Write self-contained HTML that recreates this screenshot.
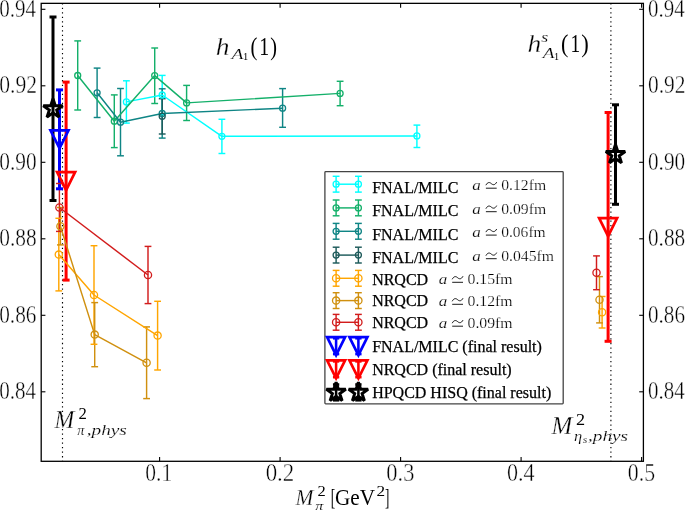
<!DOCTYPE html>
<html><head><meta charset="utf-8"><style>
html,body{margin:0;padding:0;background:#fff;width:685px;height:511px;overflow:hidden}
svg{display:block;will-change:transform;font-family:"Liberation Serif",serif}
text{font-family:"Liberation Serif",serif}
</style></head><body>
<svg width="685" height="511" viewBox="0 0 685 511" font-family="Liberation Serif">
<rect width="685" height="511" fill="#fff"/>
<g><line x1="126.40" y1="80.80" x2="126.40" y2="123.10" stroke="#00ffff" stroke-width="1.45"/><line x1="162.20" y1="75.40" x2="162.20" y2="114.60" stroke="#00ffff" stroke-width="1.45"/><line x1="221.90" y1="119.30" x2="221.90" y2="153.50" stroke="#00ffff" stroke-width="1.45"/><line x1="416.90" y1="125.10" x2="416.90" y2="147.50" stroke="#00ffff" stroke-width="1.45"/><line x1="77.70" y1="40.90" x2="77.70" y2="110.00" stroke="#14b06a" stroke-width="1.45"/><line x1="114.30" y1="94.90" x2="114.30" y2="147.60" stroke="#14b06a" stroke-width="1.45"/><line x1="154.70" y1="48.00" x2="154.70" y2="103.50" stroke="#14b06a" stroke-width="1.45"/><line x1="186.60" y1="85.40" x2="186.60" y2="120.50" stroke="#14b06a" stroke-width="1.45"/><line x1="340.10" y1="81.30" x2="340.10" y2="105.70" stroke="#14b06a" stroke-width="1.45"/><line x1="97.10" y1="68.10" x2="97.10" y2="117.50" stroke="#0f8585" stroke-width="1.45"/><line x1="120.50" y1="88.50" x2="120.50" y2="155.80" stroke="#0f8585" stroke-width="1.45"/><line x1="162.20" y1="88.80" x2="162.20" y2="138.10" stroke="#0f8585" stroke-width="1.45"/><line x1="282.60" y1="88.60" x2="282.60" y2="127.30" stroke="#0f8585" stroke-width="1.45"/><line x1="162.20" y1="98.70" x2="162.20" y2="134.00" stroke="#1d5a5a" stroke-width="1.45"/><line x1="58.80" y1="218.30" x2="58.80" y2="290.90" stroke="#ffa500" stroke-width="1.45"/><line x1="94.00" y1="245.70" x2="94.00" y2="344.30" stroke="#ffa500" stroke-width="1.45"/><line x1="157.60" y1="301.30" x2="157.60" y2="370.00" stroke="#ffa500" stroke-width="1.45"/><line x1="602.10" y1="296.50" x2="602.10" y2="328.00" stroke="#ffa500" stroke-width="1.45"/><line x1="60.40" y1="207.50" x2="60.40" y2="244.90" stroke="#d0900f" stroke-width="1.45"/><line x1="94.70" y1="302.60" x2="94.70" y2="366.70" stroke="#d0900f" stroke-width="1.45"/><line x1="146.60" y1="326.90" x2="146.60" y2="398.60" stroke="#d0900f" stroke-width="1.45"/><line x1="599.50" y1="276.60" x2="599.50" y2="322.90" stroke="#d0900f" stroke-width="1.45"/><line x1="59.40" y1="183.50" x2="59.40" y2="231.40" stroke="#d21c1c" stroke-width="1.45"/><line x1="148.00" y1="246.40" x2="148.00" y2="303.60" stroke="#d21c1c" stroke-width="1.45"/><line x1="596.50" y1="255.90" x2="596.50" y2="289.70" stroke="#d21c1c" stroke-width="1.45"/><line x1="59.50" y1="89.90" x2="59.50" y2="188.80" stroke="#0000ff" stroke-width="3.0"/><line x1="66.10" y1="82.10" x2="66.10" y2="280.10" stroke="#ff0000" stroke-width="3.0"/><line x1="608.10" y1="112.50" x2="608.10" y2="341.30" stroke="#ff0000" stroke-width="3.0"/><line x1="53.00" y1="17.00" x2="53.00" y2="200.50" stroke="#000000" stroke-width="3.0"/><line x1="615.50" y1="104.80" x2="615.50" y2="204.30" stroke="#000000" stroke-width="3.0"/><line x1="62.5" y1="3.35" x2="62.5" y2="461.3" stroke="#000" stroke-width="1.15" stroke-dasharray="1.3 3.23" stroke-dashoffset="0.25"/><line x1="610.9" y1="3.35" x2="610.9" y2="461.3" stroke="#000" stroke-width="1.15" stroke-dasharray="1.3 3.23" stroke-dashoffset="0.25"/><line x1="123.00" y1="80.80" x2="129.80" y2="80.80" stroke="#00ffff" stroke-width="1.45"/><line x1="123.00" y1="123.10" x2="129.80" y2="123.10" stroke="#00ffff" stroke-width="1.45"/><line x1="158.80" y1="75.40" x2="165.60" y2="75.40" stroke="#00ffff" stroke-width="1.45"/><line x1="158.80" y1="114.60" x2="165.60" y2="114.60" stroke="#00ffff" stroke-width="1.45"/><line x1="218.50" y1="119.30" x2="225.30" y2="119.30" stroke="#00ffff" stroke-width="1.45"/><line x1="218.50" y1="153.50" x2="225.30" y2="153.50" stroke="#00ffff" stroke-width="1.45"/><line x1="413.50" y1="125.10" x2="420.30" y2="125.10" stroke="#00ffff" stroke-width="1.45"/><line x1="413.50" y1="147.50" x2="420.30" y2="147.50" stroke="#00ffff" stroke-width="1.45"/><line x1="74.30" y1="40.90" x2="81.10" y2="40.90" stroke="#14b06a" stroke-width="1.45"/><line x1="74.30" y1="110.00" x2="81.10" y2="110.00" stroke="#14b06a" stroke-width="1.45"/><line x1="110.90" y1="94.90" x2="117.70" y2="94.90" stroke="#14b06a" stroke-width="1.45"/><line x1="110.90" y1="147.60" x2="117.70" y2="147.60" stroke="#14b06a" stroke-width="1.45"/><line x1="151.30" y1="48.00" x2="158.10" y2="48.00" stroke="#14b06a" stroke-width="1.45"/><line x1="151.30" y1="103.50" x2="158.10" y2="103.50" stroke="#14b06a" stroke-width="1.45"/><line x1="183.20" y1="85.40" x2="190.00" y2="85.40" stroke="#14b06a" stroke-width="1.45"/><line x1="183.20" y1="120.50" x2="190.00" y2="120.50" stroke="#14b06a" stroke-width="1.45"/><line x1="336.70" y1="81.30" x2="343.50" y2="81.30" stroke="#14b06a" stroke-width="1.45"/><line x1="336.70" y1="105.70" x2="343.50" y2="105.70" stroke="#14b06a" stroke-width="1.45"/><line x1="93.70" y1="68.10" x2="100.50" y2="68.10" stroke="#0f8585" stroke-width="1.45"/><line x1="93.70" y1="117.50" x2="100.50" y2="117.50" stroke="#0f8585" stroke-width="1.45"/><line x1="117.10" y1="88.50" x2="123.90" y2="88.50" stroke="#0f8585" stroke-width="1.45"/><line x1="117.10" y1="155.80" x2="123.90" y2="155.80" stroke="#0f8585" stroke-width="1.45"/><line x1="158.80" y1="88.80" x2="165.60" y2="88.80" stroke="#0f8585" stroke-width="1.45"/><line x1="158.80" y1="138.10" x2="165.60" y2="138.10" stroke="#0f8585" stroke-width="1.45"/><line x1="279.20" y1="88.60" x2="286.00" y2="88.60" stroke="#0f8585" stroke-width="1.45"/><line x1="279.20" y1="127.30" x2="286.00" y2="127.30" stroke="#0f8585" stroke-width="1.45"/><line x1="158.80" y1="98.70" x2="165.60" y2="98.70" stroke="#1d5a5a" stroke-width="1.45"/><line x1="158.80" y1="134.00" x2="165.60" y2="134.00" stroke="#1d5a5a" stroke-width="1.45"/><line x1="55.40" y1="218.30" x2="62.20" y2="218.30" stroke="#ffa500" stroke-width="1.45"/><line x1="55.40" y1="290.90" x2="62.20" y2="290.90" stroke="#ffa500" stroke-width="1.45"/><line x1="90.60" y1="245.70" x2="97.40" y2="245.70" stroke="#ffa500" stroke-width="1.45"/><line x1="90.60" y1="344.30" x2="97.40" y2="344.30" stroke="#ffa500" stroke-width="1.45"/><line x1="154.20" y1="301.30" x2="161.00" y2="301.30" stroke="#ffa500" stroke-width="1.45"/><line x1="154.20" y1="370.00" x2="161.00" y2="370.00" stroke="#ffa500" stroke-width="1.45"/><line x1="598.70" y1="296.50" x2="605.50" y2="296.50" stroke="#ffa500" stroke-width="1.45"/><line x1="598.70" y1="328.00" x2="605.50" y2="328.00" stroke="#ffa500" stroke-width="1.45"/><line x1="57.00" y1="207.50" x2="63.80" y2="207.50" stroke="#d0900f" stroke-width="1.45"/><line x1="57.00" y1="244.90" x2="63.80" y2="244.90" stroke="#d0900f" stroke-width="1.45"/><line x1="91.30" y1="302.60" x2="98.10" y2="302.60" stroke="#d0900f" stroke-width="1.45"/><line x1="91.30" y1="366.70" x2="98.10" y2="366.70" stroke="#d0900f" stroke-width="1.45"/><line x1="143.20" y1="326.90" x2="150.00" y2="326.90" stroke="#d0900f" stroke-width="1.45"/><line x1="143.20" y1="398.60" x2="150.00" y2="398.60" stroke="#d0900f" stroke-width="1.45"/><line x1="596.10" y1="276.60" x2="602.90" y2="276.60" stroke="#d0900f" stroke-width="1.45"/><line x1="596.10" y1="322.90" x2="602.90" y2="322.90" stroke="#d0900f" stroke-width="1.45"/><line x1="56.00" y1="183.50" x2="62.80" y2="183.50" stroke="#d21c1c" stroke-width="1.45"/><line x1="56.00" y1="231.40" x2="62.80" y2="231.40" stroke="#d21c1c" stroke-width="1.45"/><line x1="144.60" y1="246.40" x2="151.40" y2="246.40" stroke="#d21c1c" stroke-width="1.45"/><line x1="144.60" y1="303.60" x2="151.40" y2="303.60" stroke="#d21c1c" stroke-width="1.45"/><line x1="593.10" y1="255.90" x2="599.90" y2="255.90" stroke="#d21c1c" stroke-width="1.45"/><line x1="593.10" y1="289.70" x2="599.90" y2="289.70" stroke="#d21c1c" stroke-width="1.45"/><line x1="56.00" y1="89.90" x2="63.00" y2="89.90" stroke="#0000ff" stroke-width="3.0"/><line x1="56.00" y1="188.80" x2="63.00" y2="188.80" stroke="#0000ff" stroke-width="3.0"/><line x1="62.60" y1="82.10" x2="69.60" y2="82.10" stroke="#ff0000" stroke-width="3.0"/><line x1="62.60" y1="280.10" x2="69.60" y2="280.10" stroke="#ff0000" stroke-width="3.0"/><line x1="604.60" y1="112.50" x2="611.60" y2="112.50" stroke="#ff0000" stroke-width="3.0"/><line x1="604.60" y1="341.30" x2="611.60" y2="341.30" stroke="#ff0000" stroke-width="3.0"/><line x1="49.50" y1="17.00" x2="56.50" y2="17.00" stroke="#000000" stroke-width="3.0"/><line x1="49.50" y1="200.50" x2="56.50" y2="200.50" stroke="#000000" stroke-width="3.0"/><line x1="612.00" y1="104.80" x2="619.00" y2="104.80" stroke="#000000" stroke-width="3.0"/><line x1="612.00" y1="204.30" x2="619.00" y2="204.30" stroke="#000000" stroke-width="3.0"/><polyline points="126.40,101.90 162.20,95.00 221.90,136.30 416.90,135.90" fill="none" stroke="#00ffff" stroke-width="1.45" stroke-linejoin="round"/><circle cx="126.40" cy="101.90" r="3.0" fill="none" stroke="#00ffff" stroke-width="1.3"/><circle cx="162.20" cy="95.00" r="3.0" fill="none" stroke="#00ffff" stroke-width="1.3"/><circle cx="221.90" cy="136.30" r="3.0" fill="none" stroke="#00ffff" stroke-width="1.3"/><circle cx="416.90" cy="135.90" r="3.0" fill="none" stroke="#00ffff" stroke-width="1.3"/><polyline points="77.70,75.50 114.30,121.20 154.70,75.60 186.60,102.90 340.10,93.40" fill="none" stroke="#14b06a" stroke-width="1.45" stroke-linejoin="round"/><circle cx="77.70" cy="75.50" r="3.0" fill="none" stroke="#14b06a" stroke-width="1.3"/><circle cx="114.30" cy="121.20" r="3.0" fill="none" stroke="#14b06a" stroke-width="1.3"/><circle cx="154.70" cy="75.60" r="3.0" fill="none" stroke="#14b06a" stroke-width="1.3"/><circle cx="186.60" cy="102.90" r="3.0" fill="none" stroke="#14b06a" stroke-width="1.3"/><circle cx="340.10" cy="93.40" r="3.0" fill="none" stroke="#14b06a" stroke-width="1.3"/><polyline points="97.10,92.80 120.50,122.20 162.20,113.50 282.60,108.20" fill="none" stroke="#0f8585" stroke-width="1.45" stroke-linejoin="round"/><circle cx="97.10" cy="92.80" r="3.0" fill="none" stroke="#0f8585" stroke-width="1.3"/><circle cx="120.50" cy="122.20" r="3.0" fill="none" stroke="#0f8585" stroke-width="1.3"/><circle cx="162.20" cy="113.50" r="3.0" fill="none" stroke="#0f8585" stroke-width="1.3"/><circle cx="282.60" cy="108.20" r="3.0" fill="none" stroke="#0f8585" stroke-width="1.3"/><circle cx="162.20" cy="116.30" r="3.0" fill="none" stroke="#1d5a5a" stroke-width="1.3"/><polyline points="58.80,254.60 94.00,295.00 157.60,335.60" fill="none" stroke="#ffa500" stroke-width="1.45" stroke-linejoin="round"/><circle cx="58.80" cy="254.60" r="3.6" fill="none" stroke="#ffa500" stroke-width="1.3"/><circle cx="94.00" cy="295.00" r="3.6" fill="none" stroke="#ffa500" stroke-width="1.3"/><circle cx="157.60" cy="335.60" r="3.6" fill="none" stroke="#ffa500" stroke-width="1.3"/><circle cx="602.10" cy="312.30" r="3.6" fill="none" stroke="#ffa500" stroke-width="1.3"/><polyline points="60.40,226.20 94.70,334.60 146.60,362.80" fill="none" stroke="#d0900f" stroke-width="1.45" stroke-linejoin="round"/><circle cx="60.40" cy="226.20" r="3.6" fill="none" stroke="#d0900f" stroke-width="1.3"/><circle cx="94.70" cy="334.60" r="3.6" fill="none" stroke="#d0900f" stroke-width="1.3"/><circle cx="146.60" cy="362.80" r="3.6" fill="none" stroke="#d0900f" stroke-width="1.3"/><circle cx="599.50" cy="299.70" r="3.6" fill="none" stroke="#d0900f" stroke-width="1.3"/><polyline points="59.40,207.50 148.00,275.00" fill="none" stroke="#d21c1c" stroke-width="1.45" stroke-linejoin="round"/><circle cx="59.40" cy="207.50" r="3.6" fill="none" stroke="#d21c1c" stroke-width="1.3"/><circle cx="148.00" cy="275.00" r="3.6" fill="none" stroke="#d21c1c" stroke-width="1.3"/><circle cx="596.50" cy="272.80" r="3.6" fill="none" stroke="#d21c1c" stroke-width="1.3"/><path d="M50.50,130.30 L68.50,130.30 L59.50,148.30 Z" fill="none" stroke="#0000ff" stroke-width="2.7" stroke-linejoin="miter" stroke-miterlimit="4"/><path d="M57.10,172.20 L75.10,172.20 L66.10,190.20 Z" fill="none" stroke="#ff0000" stroke-width="2.7" stroke-linejoin="miter" stroke-miterlimit="4"/><path d="M599.10,218.20 L617.10,218.20 L608.10,236.20 Z" fill="none" stroke="#ff0000" stroke-width="2.7" stroke-linejoin="miter" stroke-miterlimit="4"/><path d="M53.00,98.70 L50.71,105.75 L43.30,105.75 L49.29,110.10 L47.00,117.15 L53.00,112.80 L59.00,117.15 L56.71,110.10 L62.70,105.75 L55.29,105.75 Z" fill="none" stroke="#000000" stroke-width="3.0" stroke-linejoin="miter" stroke-miterlimit="2"/><path d="M615.50,144.40 L613.21,151.45 L605.80,151.45 L611.79,155.80 L609.50,162.85 L615.50,158.50 L621.50,162.85 L619.21,155.80 L625.20,151.45 L617.79,151.45 Z" fill="none" stroke="#000000" stroke-width="3.0" stroke-linejoin="miter" stroke-miterlimit="2"/></g>
<g><rect x="41.2" y="3.35" width="602.20" height="457.95" fill="none" stroke="#000" stroke-width="1.3"/><line x1="159.60" y1="461.3" x2="159.60" y2="456.90000000000003" stroke="#000" stroke-width="1.1"/><line x1="159.60" y1="3.35" x2="159.60" y2="7.75" stroke="#000" stroke-width="1.1"/><line x1="280.10" y1="461.3" x2="280.10" y2="456.90000000000003" stroke="#000" stroke-width="1.1"/><line x1="280.10" y1="3.35" x2="280.10" y2="7.75" stroke="#000" stroke-width="1.1"/><line x1="400.60" y1="461.3" x2="400.60" y2="456.90000000000003" stroke="#000" stroke-width="1.1"/><line x1="400.60" y1="3.35" x2="400.60" y2="7.75" stroke="#000" stroke-width="1.1"/><line x1="521.10" y1="461.3" x2="521.10" y2="456.90000000000003" stroke="#000" stroke-width="1.1"/><line x1="521.10" y1="3.35" x2="521.10" y2="7.75" stroke="#000" stroke-width="1.1"/><line x1="641.60" y1="461.3" x2="641.60" y2="456.90000000000003" stroke="#000" stroke-width="1.1"/><line x1="641.60" y1="3.35" x2="641.60" y2="7.75" stroke="#000" stroke-width="1.1"/><line x1="41.2" y1="9.30" x2="45.400000000000006" y2="9.30" stroke="#000" stroke-width="1.1"/><line x1="643.4" y1="9.30" x2="639.1999999999999" y2="9.30" stroke="#000" stroke-width="1.1"/><line x1="41.2" y1="85.80" x2="45.400000000000006" y2="85.80" stroke="#000" stroke-width="1.1"/><line x1="643.4" y1="85.80" x2="639.1999999999999" y2="85.80" stroke="#000" stroke-width="1.1"/><line x1="41.2" y1="162.30" x2="45.400000000000006" y2="162.30" stroke="#000" stroke-width="1.1"/><line x1="643.4" y1="162.30" x2="639.1999999999999" y2="162.30" stroke="#000" stroke-width="1.1"/><line x1="41.2" y1="238.80" x2="45.400000000000006" y2="238.80" stroke="#000" stroke-width="1.1"/><line x1="643.4" y1="238.80" x2="639.1999999999999" y2="238.80" stroke="#000" stroke-width="1.1"/><line x1="41.2" y1="315.30" x2="45.400000000000006" y2="315.30" stroke="#000" stroke-width="1.1"/><line x1="643.4" y1="315.30" x2="639.1999999999999" y2="315.30" stroke="#000" stroke-width="1.1"/><line x1="41.2" y1="391.80" x2="45.400000000000006" y2="391.80" stroke="#000" stroke-width="1.1"/><line x1="643.4" y1="391.80" x2="639.1999999999999" y2="391.80" stroke="#000" stroke-width="1.1"/></g>
<g fill="#000"><text x="-0.80" y="16.90" font-size="24.3" textLength="36.93" lengthAdjust="spacingAndGlyphs" stroke="#fff" stroke-width="0.40">0.94</text><text x="648.00" y="16.90" font-size="24.3" textLength="36.73" lengthAdjust="spacingAndGlyphs" stroke="#fff" stroke-width="0.40">0.94</text><text x="-0.82" y="93.40" font-size="24.3" textLength="37.82" lengthAdjust="spacingAndGlyphs" stroke="#fff" stroke-width="0.40">0.92</text><text x="647.98" y="93.40" font-size="24.3" textLength="37.60" lengthAdjust="spacingAndGlyphs" stroke="#fff" stroke-width="0.40">0.92</text><text x="-0.81" y="169.90" font-size="24.3" textLength="37.43" lengthAdjust="spacingAndGlyphs" stroke="#fff" stroke-width="0.40">0.90</text><text x="647.99" y="169.90" font-size="24.3" textLength="37.22" lengthAdjust="spacingAndGlyphs" stroke="#fff" stroke-width="0.40">0.90</text><text x="-0.81" y="246.40" font-size="24.3" textLength="37.43" lengthAdjust="spacingAndGlyphs" stroke="#fff" stroke-width="0.40">0.88</text><text x="647.99" y="246.40" font-size="24.3" textLength="37.22" lengthAdjust="spacingAndGlyphs" stroke="#fff" stroke-width="0.40">0.88</text><text x="-0.81" y="322.90" font-size="24.3" textLength="37.24" lengthAdjust="spacingAndGlyphs" stroke="#fff" stroke-width="0.40">0.86</text><text x="647.99" y="322.90" font-size="24.3" textLength="37.04" lengthAdjust="spacingAndGlyphs" stroke="#fff" stroke-width="0.40">0.86</text><text x="-0.80" y="399.40" font-size="24.3" textLength="36.93" lengthAdjust="spacingAndGlyphs" stroke="#fff" stroke-width="0.40">0.84</text><text x="648.00" y="399.40" font-size="24.3" textLength="36.73" lengthAdjust="spacingAndGlyphs" stroke="#fff" stroke-width="0.40">0.84</text><text x="145.28" y="481.30" font-size="24.3" textLength="26.91" lengthAdjust="spacingAndGlyphs" stroke="#fff" stroke-width="0.40">0.1</text><text x="265.63" y="481.30" font-size="24.3" textLength="28.64" lengthAdjust="spacingAndGlyphs" stroke="#fff" stroke-width="0.40">0.2</text><text x="386.35" y="481.30" font-size="24.3" textLength="28.03" lengthAdjust="spacingAndGlyphs" stroke="#fff" stroke-width="0.40">0.3</text><text x="507.06" y="481.30" font-size="24.3" textLength="27.59" lengthAdjust="spacingAndGlyphs" stroke="#fff" stroke-width="0.40">0.4</text><text x="627.77" y="481.30" font-size="24.3" textLength="27.28" lengthAdjust="spacingAndGlyphs" stroke="#fff" stroke-width="0.40">0.5</text><text x="295.45" y="504.70" font-size="23.3" font-style="italic" textLength="17.96" lengthAdjust="spacingAndGlyphs" stroke="#fff" stroke-width="0.28">M</text><text x="317.58" y="496.00" font-size="15" textLength="8.23" lengthAdjust="spacingAndGlyphs">2</text><text x="315.31" y="509.80" font-size="13.5" font-style="italic" textLength="8.12" lengthAdjust="spacingAndGlyphs" stroke="#fff" stroke-width="0.16">π</text><text x="330.80" y="504.70" font-size="24" textLength="4.49" lengthAdjust="spacingAndGlyphs">[</text><text x="335.03" y="504.70" font-size="24" textLength="40.01" lengthAdjust="spacingAndGlyphs">GeV</text><text x="376.54" y="496.30" font-size="15" textLength="8.61" lengthAdjust="spacingAndGlyphs">2</text><text x="385.03" y="504.70" font-size="24" textLength="4.34" lengthAdjust="spacingAndGlyphs">]</text><text x="215.81" y="54.50" font-size="25.2" font-style="italic" textLength="13.73" lengthAdjust="spacingAndGlyphs" stroke="#fff" stroke-width="0.30">h</text><text x="231.47" y="58.50" font-size="15.5" font-style="italic" textLength="11.96" lengthAdjust="spacingAndGlyphs" stroke="#fff" stroke-width="0.19">A</text><text x="242.98" y="60.30" font-size="11" textLength="5.25" lengthAdjust="spacingAndGlyphs">1</text><text x="250.59" y="54.50" font-size="25.2" textLength="6.87" lengthAdjust="spacingAndGlyphs">(</text><text x="259.25" y="54.50" font-size="25.2" textLength="9.94" lengthAdjust="spacingAndGlyphs">1</text><text x="270.35" y="54.50" font-size="25.2" textLength="6.74" lengthAdjust="spacingAndGlyphs">)</text><text x="527.51" y="51.70" font-size="25.2" font-style="italic" textLength="13.73" lengthAdjust="spacingAndGlyphs" stroke="#fff" stroke-width="0.30">h</text><text x="541.38" y="41.60" font-size="15.5" font-style="italic" textLength="6.96" lengthAdjust="spacingAndGlyphs" stroke="#fff" stroke-width="0.19">s</text><text x="542.65" y="58.40" font-size="15.5" font-style="italic" textLength="11.78" lengthAdjust="spacingAndGlyphs" stroke="#fff" stroke-width="0.19">A</text><text x="554.00" y="60.30" font-size="11" textLength="5.11" lengthAdjust="spacingAndGlyphs">1</text><text x="561.02" y="51.70" font-size="25.2" textLength="7.39" lengthAdjust="spacingAndGlyphs">(</text><text x="570.50" y="51.70" font-size="25.2" textLength="9.66" lengthAdjust="spacingAndGlyphs">1</text><text x="581.17" y="51.70" font-size="25.2" textLength="7.52" lengthAdjust="spacingAndGlyphs">)</text><text x="54.58" y="427.90" font-size="24.6" font-style="italic" textLength="19.83" lengthAdjust="spacingAndGlyphs" stroke="#fff" stroke-width="0.30">M</text><text x="78.47" y="419.00" font-size="16.5" textLength="8.36" lengthAdjust="spacingAndGlyphs">2</text><text x="77.22" y="434.50" font-size="15.4" font-style="italic" textLength="7.25" lengthAdjust="spacingAndGlyphs" stroke="#fff" stroke-width="0.18">π</text><text x="86.66" y="434.50" font-size="15.4" font-style="italic" textLength="40.23" lengthAdjust="spacingAndGlyphs" stroke="#fff" stroke-width="0.18">,phys</text><text x="551.59" y="434.00" font-size="24.6" font-style="italic" textLength="20.86" lengthAdjust="spacingAndGlyphs" stroke="#fff" stroke-width="0.30">M</text><text x="576.10" y="425.00" font-size="16.5" textLength="9.10" lengthAdjust="spacingAndGlyphs">2</text><text x="574.01" y="441.00" font-size="15.4" font-style="italic" textLength="8.17" lengthAdjust="spacingAndGlyphs" stroke="#fff" stroke-width="0.18">η</text><text x="582.66" y="442.80" font-size="11" font-style="italic" textLength="4.49" lengthAdjust="spacingAndGlyphs" stroke="#fff" stroke-width="0.13">s</text><text x="587.96" y="441.00" font-size="15.4" font-style="italic" textLength="40.12" lengthAdjust="spacingAndGlyphs" stroke="#fff" stroke-width="0.18">,phys</text></g>
<g><rect x="324.9" y="171.7" width="238.3" height="232.1" rx="0.8" fill="#fff" stroke="#444" stroke-width="1.3"/><line x1="336.1" y1="184.2" x2="358.4" y2="184.2" stroke="#00ffff" stroke-width="1.45"/><line x1="336.10" y1="176.30" x2="336.10" y2="192.10" stroke="#00ffff" stroke-width="1.45"/><line x1="332.70" y1="176.30" x2="339.50" y2="176.30" stroke="#00ffff" stroke-width="1.45"/><line x1="332.70" y1="192.10" x2="339.50" y2="192.10" stroke="#00ffff" stroke-width="1.45"/><circle cx="336.10" cy="184.20" r="3.0" fill="none" stroke="#00ffff" stroke-width="1.3"/><line x1="358.40" y1="176.30" x2="358.40" y2="192.10" stroke="#00ffff" stroke-width="1.45"/><line x1="355.00" y1="176.30" x2="361.80" y2="176.30" stroke="#00ffff" stroke-width="1.45"/><line x1="355.00" y1="192.10" x2="361.80" y2="192.10" stroke="#00ffff" stroke-width="1.45"/><circle cx="358.40" cy="184.20" r="3.0" fill="none" stroke="#00ffff" stroke-width="1.3"/><text x="372.14" y="192.60" font-size="16" stroke="#000" stroke-width="0.25">FNAL/MILC</text><text x="472.39" y="190.10" font-size="15" font-style="italic" textLength="8.55" lengthAdjust="spacingAndGlyphs" stroke="#fff" stroke-width="0.18">a</text><path d="M485.90,185.20 C487.70,181.70 489.80,182.20 491.30,183.60 C492.80,185.00 494.90,185.50 496.70,182.10" fill="none" stroke="#000" stroke-width="0.9"/><line x1="485.90" y1="188.20" x2="496.70" y2="188.20" stroke="#000" stroke-width="0.9"/><text x="501.20" y="190.10" font-size="15" textLength="44.94" lengthAdjust="spacingAndGlyphs" stroke="#fff" stroke-width="0.22">0.12fm</text><line x1="336.1" y1="207.9" x2="358.4" y2="207.9" stroke="#14b06a" stroke-width="1.45"/><line x1="336.10" y1="200.00" x2="336.10" y2="215.80" stroke="#14b06a" stroke-width="1.45"/><line x1="332.70" y1="200.00" x2="339.50" y2="200.00" stroke="#14b06a" stroke-width="1.45"/><line x1="332.70" y1="215.80" x2="339.50" y2="215.80" stroke="#14b06a" stroke-width="1.45"/><circle cx="336.10" cy="207.90" r="3.0" fill="none" stroke="#14b06a" stroke-width="1.3"/><line x1="358.40" y1="200.00" x2="358.40" y2="215.80" stroke="#14b06a" stroke-width="1.45"/><line x1="355.00" y1="200.00" x2="361.80" y2="200.00" stroke="#14b06a" stroke-width="1.45"/><line x1="355.00" y1="215.80" x2="361.80" y2="215.80" stroke="#14b06a" stroke-width="1.45"/><circle cx="358.40" cy="207.90" r="3.0" fill="none" stroke="#14b06a" stroke-width="1.3"/><text x="372.14" y="215.90" font-size="16" stroke="#000" stroke-width="0.25">FNAL/MILC</text><text x="472.39" y="213.60" font-size="15" font-style="italic" textLength="8.55" lengthAdjust="spacingAndGlyphs" stroke="#fff" stroke-width="0.18">a</text><path d="M485.90,208.70 C487.70,205.20 489.80,205.70 491.30,207.10 C492.80,208.50 494.90,209.00 496.70,205.60" fill="none" stroke="#000" stroke-width="0.9"/><line x1="485.90" y1="211.70" x2="496.70" y2="211.70" stroke="#000" stroke-width="0.9"/><text x="501.20" y="213.60" font-size="15" textLength="44.94" lengthAdjust="spacingAndGlyphs" stroke="#fff" stroke-width="0.22">0.09fm</text><line x1="336.1" y1="231.3" x2="358.4" y2="231.3" stroke="#0f8585" stroke-width="1.45"/><line x1="336.10" y1="223.40" x2="336.10" y2="239.20" stroke="#0f8585" stroke-width="1.45"/><line x1="332.70" y1="223.40" x2="339.50" y2="223.40" stroke="#0f8585" stroke-width="1.45"/><line x1="332.70" y1="239.20" x2="339.50" y2="239.20" stroke="#0f8585" stroke-width="1.45"/><circle cx="336.10" cy="231.30" r="3.0" fill="none" stroke="#0f8585" stroke-width="1.3"/><line x1="358.40" y1="223.40" x2="358.40" y2="239.20" stroke="#0f8585" stroke-width="1.45"/><line x1="355.00" y1="223.40" x2="361.80" y2="223.40" stroke="#0f8585" stroke-width="1.45"/><line x1="355.00" y1="239.20" x2="361.80" y2="239.20" stroke="#0f8585" stroke-width="1.45"/><circle cx="358.40" cy="231.30" r="3.0" fill="none" stroke="#0f8585" stroke-width="1.3"/><text x="372.14" y="239.50" font-size="16" stroke="#000" stroke-width="0.25">FNAL/MILC</text><text x="472.39" y="237.00" font-size="15" font-style="italic" textLength="8.55" lengthAdjust="spacingAndGlyphs" stroke="#fff" stroke-width="0.18">a</text><path d="M485.90,232.10 C487.70,228.60 489.80,229.10 491.30,230.50 C492.80,231.90 494.90,232.40 496.70,229.00" fill="none" stroke="#000" stroke-width="0.9"/><line x1="485.90" y1="235.10" x2="496.70" y2="235.10" stroke="#000" stroke-width="0.9"/><text x="501.21" y="237.00" font-size="15" textLength="44.43" lengthAdjust="spacingAndGlyphs" stroke="#fff" stroke-width="0.22">0.06fm</text><line x1="336.1" y1="255.1" x2="358.4" y2="255.1" stroke="#1d5a5a" stroke-width="1.45"/><line x1="336.10" y1="247.20" x2="336.10" y2="263.00" stroke="#1d5a5a" stroke-width="1.45"/><line x1="332.70" y1="247.20" x2="339.50" y2="247.20" stroke="#1d5a5a" stroke-width="1.45"/><line x1="332.70" y1="263.00" x2="339.50" y2="263.00" stroke="#1d5a5a" stroke-width="1.45"/><circle cx="336.10" cy="255.10" r="3.0" fill="none" stroke="#1d5a5a" stroke-width="1.3"/><line x1="358.40" y1="247.20" x2="358.40" y2="263.00" stroke="#1d5a5a" stroke-width="1.45"/><line x1="355.00" y1="247.20" x2="361.80" y2="247.20" stroke="#1d5a5a" stroke-width="1.45"/><line x1="355.00" y1="263.00" x2="361.80" y2="263.00" stroke="#1d5a5a" stroke-width="1.45"/><circle cx="358.40" cy="255.10" r="3.0" fill="none" stroke="#1d5a5a" stroke-width="1.3"/><text x="372.14" y="263.00" font-size="16" stroke="#000" stroke-width="0.25">FNAL/MILC</text><text x="472.39" y="260.60" font-size="15" font-style="italic" textLength="8.55" lengthAdjust="spacingAndGlyphs" stroke="#fff" stroke-width="0.18">a</text><path d="M485.90,255.70 C487.70,252.20 489.80,252.70 491.30,254.10 C492.80,255.50 494.90,256.00 496.70,252.60" fill="none" stroke="#000" stroke-width="0.9"/><line x1="485.90" y1="258.70" x2="496.70" y2="258.70" stroke="#000" stroke-width="0.9"/><text x="501.20" y="260.60" font-size="15" textLength="52.84" lengthAdjust="spacingAndGlyphs" stroke="#fff" stroke-width="0.22">0.045fm</text><line x1="336.1" y1="278.3" x2="358.4" y2="278.3" stroke="#ffa500" stroke-width="1.45"/><line x1="336.10" y1="270.40" x2="336.10" y2="286.20" stroke="#ffa500" stroke-width="1.45"/><line x1="332.70" y1="270.40" x2="339.50" y2="270.40" stroke="#ffa500" stroke-width="1.45"/><line x1="332.70" y1="286.20" x2="339.50" y2="286.20" stroke="#ffa500" stroke-width="1.45"/><circle cx="336.10" cy="278.30" r="3.6" fill="none" stroke="#ffa500" stroke-width="1.3"/><line x1="358.40" y1="270.40" x2="358.40" y2="286.20" stroke="#ffa500" stroke-width="1.45"/><line x1="355.00" y1="270.40" x2="361.80" y2="270.40" stroke="#ffa500" stroke-width="1.45"/><line x1="355.00" y1="286.20" x2="361.80" y2="286.20" stroke="#ffa500" stroke-width="1.45"/><circle cx="358.40" cy="278.30" r="3.6" fill="none" stroke="#ffa500" stroke-width="1.3"/><text x="372.14" y="284.70" font-size="16" stroke="#000" stroke-width="0.25">NRQCD</text><text x="438.69" y="284.20" font-size="15" font-style="italic" textLength="8.55" lengthAdjust="spacingAndGlyphs" stroke="#fff" stroke-width="0.18">a</text><path d="M452.20,279.30 C454.00,275.80 456.10,276.30 457.60,277.70 C459.10,279.10 461.20,279.60 463.00,276.20" fill="none" stroke="#000" stroke-width="0.9"/><line x1="452.20" y1="282.30" x2="463.00" y2="282.30" stroke="#000" stroke-width="0.9"/><text x="467.50" y="284.20" font-size="15" textLength="45.15" lengthAdjust="spacingAndGlyphs" stroke="#fff" stroke-width="0.22">0.15fm</text><line x1="336.1" y1="300.6" x2="358.4" y2="300.6" stroke="#d0900f" stroke-width="1.45"/><line x1="336.10" y1="292.70" x2="336.10" y2="308.50" stroke="#d0900f" stroke-width="1.45"/><line x1="332.70" y1="292.70" x2="339.50" y2="292.70" stroke="#d0900f" stroke-width="1.45"/><line x1="332.70" y1="308.50" x2="339.50" y2="308.50" stroke="#d0900f" stroke-width="1.45"/><circle cx="336.10" cy="300.60" r="3.6" fill="none" stroke="#d0900f" stroke-width="1.3"/><line x1="358.40" y1="292.70" x2="358.40" y2="308.50" stroke="#d0900f" stroke-width="1.45"/><line x1="355.00" y1="292.70" x2="361.80" y2="292.70" stroke="#d0900f" stroke-width="1.45"/><line x1="355.00" y1="308.50" x2="361.80" y2="308.50" stroke="#d0900f" stroke-width="1.45"/><circle cx="358.40" cy="300.60" r="3.6" fill="none" stroke="#d0900f" stroke-width="1.3"/><text x="372.14" y="306.40" font-size="16" stroke="#000" stroke-width="0.25">NRQCD</text><text x="438.69" y="306.20" font-size="15" font-style="italic" textLength="8.55" lengthAdjust="spacingAndGlyphs" stroke="#fff" stroke-width="0.18">a</text><path d="M452.20,301.30 C454.00,297.80 456.10,298.30 457.60,299.70 C459.10,301.10 461.20,301.60 463.00,298.20" fill="none" stroke="#000" stroke-width="0.9"/><line x1="452.20" y1="304.30" x2="463.00" y2="304.30" stroke="#000" stroke-width="0.9"/><text x="467.50" y="306.20" font-size="15" textLength="45.15" lengthAdjust="spacingAndGlyphs" stroke="#fff" stroke-width="0.22">0.12fm</text><line x1="336.1" y1="322.3" x2="358.4" y2="322.3" stroke="#d21c1c" stroke-width="1.45"/><line x1="336.10" y1="314.40" x2="336.10" y2="330.20" stroke="#d21c1c" stroke-width="1.45"/><line x1="332.70" y1="314.40" x2="339.50" y2="314.40" stroke="#d21c1c" stroke-width="1.45"/><line x1="332.70" y1="330.20" x2="339.50" y2="330.20" stroke="#d21c1c" stroke-width="1.45"/><circle cx="336.10" cy="322.30" r="3.6" fill="none" stroke="#d21c1c" stroke-width="1.3"/><line x1="358.40" y1="314.40" x2="358.40" y2="330.20" stroke="#d21c1c" stroke-width="1.45"/><line x1="355.00" y1="314.40" x2="361.80" y2="314.40" stroke="#d21c1c" stroke-width="1.45"/><line x1="355.00" y1="330.20" x2="361.80" y2="330.20" stroke="#d21c1c" stroke-width="1.45"/><circle cx="358.40" cy="322.30" r="3.6" fill="none" stroke="#d21c1c" stroke-width="1.3"/><text x="372.14" y="328.40" font-size="16" stroke="#000" stroke-width="0.25">NRQCD</text><text x="438.69" y="328.10" font-size="15" font-style="italic" textLength="8.55" lengthAdjust="spacingAndGlyphs" stroke="#fff" stroke-width="0.18">a</text><path d="M452.20,323.20 C454.00,319.70 456.10,320.20 457.60,321.60 C459.10,323.00 461.20,323.50 463.00,320.10" fill="none" stroke="#000" stroke-width="0.9"/><line x1="452.20" y1="326.20" x2="463.00" y2="326.20" stroke="#000" stroke-width="0.9"/><text x="467.50" y="328.10" font-size="15" textLength="45.15" lengthAdjust="spacingAndGlyphs" stroke="#fff" stroke-width="0.22">0.09fm</text><line x1="336.10" y1="338.30" x2="336.10" y2="354.10" stroke="#0000ff" stroke-width="2.55"/><line x1="332.95" y1="338.30" x2="339.25" y2="338.30" stroke="#0000ff" stroke-width="2.55"/><line x1="332.95" y1="354.10" x2="339.25" y2="354.10" stroke="#0000ff" stroke-width="2.55"/><path d="M327.10,337.20 L345.10,337.20 L336.10,355.20 Z" fill="none" stroke="#0000ff" stroke-width="2.7" stroke-linejoin="miter" stroke-miterlimit="4"/><line x1="358.40" y1="338.30" x2="358.40" y2="354.10" stroke="#0000ff" stroke-width="2.55"/><line x1="355.25" y1="338.30" x2="361.55" y2="338.30" stroke="#0000ff" stroke-width="2.55"/><line x1="355.25" y1="354.10" x2="361.55" y2="354.10" stroke="#0000ff" stroke-width="2.55"/><path d="M349.40,337.20 L367.40,337.20 L358.40,355.20 Z" fill="none" stroke="#0000ff" stroke-width="2.7" stroke-linejoin="miter" stroke-miterlimit="4"/><text x="372.14" y="352.10" font-size="16" stroke="#000" stroke-width="0.25">FNAL/MILC (final result)</text><line x1="336.10" y1="361.40" x2="336.10" y2="377.20" stroke="#ff0000" stroke-width="2.55"/><line x1="332.95" y1="361.40" x2="339.25" y2="361.40" stroke="#ff0000" stroke-width="2.55"/><line x1="332.95" y1="377.20" x2="339.25" y2="377.20" stroke="#ff0000" stroke-width="2.55"/><path d="M327.10,360.30 L345.10,360.30 L336.10,378.30 Z" fill="none" stroke="#ff0000" stroke-width="2.7" stroke-linejoin="miter" stroke-miterlimit="4"/><line x1="358.40" y1="361.40" x2="358.40" y2="377.20" stroke="#ff0000" stroke-width="2.55"/><line x1="355.25" y1="361.40" x2="361.55" y2="361.40" stroke="#ff0000" stroke-width="2.55"/><line x1="355.25" y1="377.20" x2="361.55" y2="377.20" stroke="#ff0000" stroke-width="2.55"/><path d="M349.40,360.30 L367.40,360.30 L358.40,378.30 Z" fill="none" stroke="#ff0000" stroke-width="2.7" stroke-linejoin="miter" stroke-miterlimit="4"/><text x="372.14" y="375.00" font-size="16" stroke="#000" stroke-width="0.25">NRQCD (final result)</text><line x1="336.10" y1="384.50" x2="336.10" y2="400.30" stroke="#000000" stroke-width="2.55"/><line x1="332.95" y1="384.50" x2="339.25" y2="384.50" stroke="#000000" stroke-width="2.55"/><line x1="332.95" y1="400.30" x2="339.25" y2="400.30" stroke="#000000" stroke-width="2.55"/><path d="M336.10,382.20 L333.81,389.25 L326.40,389.25 L332.39,393.60 L330.10,400.65 L336.10,396.30 L342.10,400.65 L339.81,393.60 L345.80,389.25 L338.39,389.25 Z" fill="none" stroke="#000000" stroke-width="3.0" stroke-linejoin="miter" stroke-miterlimit="2"/><line x1="358.40" y1="384.50" x2="358.40" y2="400.30" stroke="#000000" stroke-width="2.55"/><line x1="355.25" y1="384.50" x2="361.55" y2="384.50" stroke="#000000" stroke-width="2.55"/><line x1="355.25" y1="400.30" x2="361.55" y2="400.30" stroke="#000000" stroke-width="2.55"/><path d="M358.40,382.20 L356.11,389.25 L348.70,389.25 L354.69,393.60 L352.40,400.65 L358.40,396.30 L364.40,400.65 L362.11,393.60 L368.10,389.25 L360.69,389.25 Z" fill="none" stroke="#000000" stroke-width="3.0" stroke-linejoin="miter" stroke-miterlimit="2"/><text x="372.14" y="397.90" font-size="16" stroke="#000" stroke-width="0.25">HPQCD HISQ (final result)</text></g>
</svg>
</body></html>
